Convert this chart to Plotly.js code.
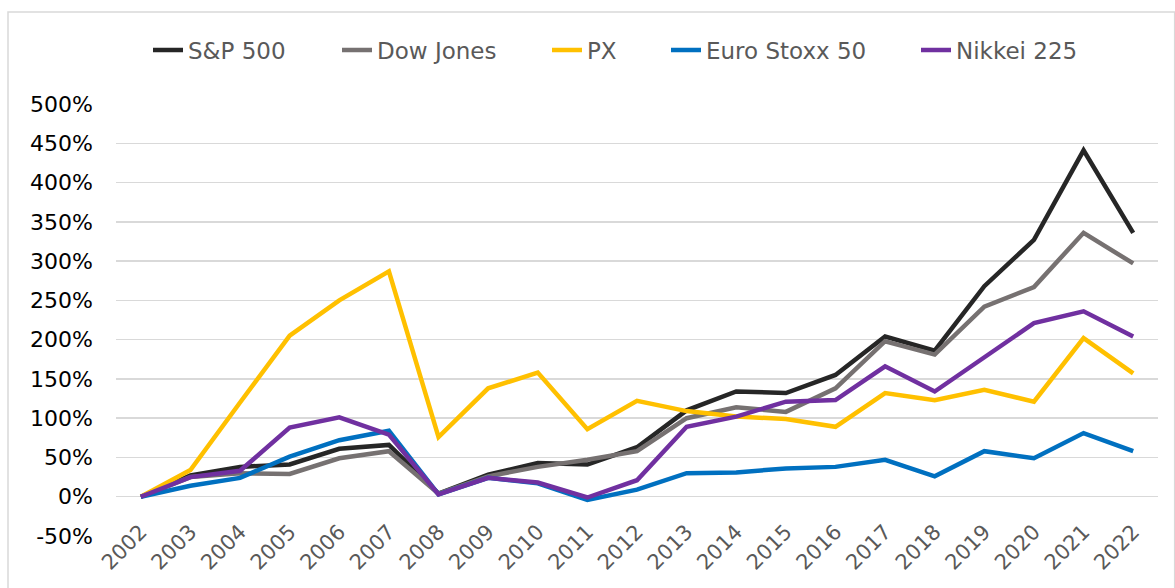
<!DOCTYPE html>
<html>
<head>
<meta charset="utf-8">
<script src="https://cdn.plot.ly/plotly-3.0.1.min.js"></script>
<style>html,body{margin:0;padding:0;background:#fff;}#chart{width:1175px;height:588px;}</style>
</head>
<body>
<div id="chart"></div>
<script>
const years = ["2002","2003","2004","2005","2006","2007","2008","2009","2010","2011","2012","2013","2014","2015","2016","2017","2018","2019","2020","2021","2022"];
const sp500    = [0, 27, 38, 41, 61, 66, 4, 28, 43, 41, 63, 110, 134, 132, 155, 204, 186, 268, 327, 441, 336];
const dowJones = [0, 25, 30, 29, 49, 58, 4, 26, 38, 47, 58, 100, 114, 108, 138, 198, 181, 242, 267, 336, 297];
const px       = [0, 34, 120, 205, 250, 287, 76, 138, 158, 86, 122, 109, 102, 99, 89, 132, 123, 136, 121, 202, 157];
const euroStoxx= [0, 14, 24, 51, 72, 84, 3, 24, 17, -4, 9, 30, 31, 36, 38, 47, 26, 58, 49, 81, 58];
const nikkei   = [0, 25, 33, 88, 101, 79, 3, 24, 18, -1, 21, 89, 102, 121, 123, 166, 134, 178, 221, 236, 204];
const yTicks = [-50, 0, 50, 100, 150, 200, 250, 300, 350, 400, 450, 500];

const series = [
  {name: "S&P 500", y: sp500, color: "#262626"},
  {name: "Dow Jones", y: dowJones, color: "#767171"},
  {name: "PX", y: px, color: "#FFC000"},
  {name: "Euro Stoxx 50", y: euroStoxx, color: "#0070C0"},
  {name: "Nikkei 225", y: nikkei, color: "#7030A0"}
];

const font = "DejaVu Sans, Liberation Sans, sans-serif";
const legendKeys = ["legend", "legend2", "legend3", "legend4", "legend5"];
const legendTextX = [188, 377, 587, 706, 956];   // pixel x where each legend label starts

const traces = series.map((s, i) => ({
  type: "scatter", mode: "lines", name: s.name, x: years, y: s.y,
  legend: legendKeys[i],
  line: {color: s.color, width: 4.5, shape: "linear"}
}));

const layout = {
  width: 1175, height: 588,
  margin: {l: 116, r: 17, t: 104, b: 52},
  paper_bgcolor: "#fff", plot_bgcolor: "#fff",
  showlegend: true,
  xaxis: {
    type: "category", range: [-0.5, 20.5], showgrid: false, zeroline: false,
    showline: false, ticks: "", tickangle: -45,
    anchor: "free", position: 0.05, automargin: false,
    tickfont: {family: font, size: 21, color: "#595959"}
  },
  yaxis: {
    range: [-50, 500], tickvals: yTicks, ticktext: yTicks.map(v => v + "%"),
    showgrid: true, gridcolor: "#d9d9d9", gridwidth: 1.5, zeroline: false,
    showline: false, ticks: "", automargin: false, ticklabelstandoff: 22,
    tickfont: {family: font, size: 22, color: "#000"}
  },
  shapes: [{
    type: "rect", xref: "paper", yref: "paper",
    x0: -108/1042, x1: 1.016, y0: -0.2, y1: (536-12)/432,
    line: {color: "#d9d9d9", width: 1.5}, fillcolor: "rgba(0,0,0,0)", layer: "below"
  }]
};
legendKeys.forEach((k, i) => {
  layout[k] = {
    orientation: "h", x: (legendTextX[i] - 40 - 116) / 1042, xanchor: "left",
    y: 1.125, yanchor: "middle", itemwidth: 30,
    font: {family: font, size: 23, color: "#595959"}, bgcolor: "rgba(0,0,0,0)"
  };
});

Plotly.newPlot("chart", traces, layout, {displayModeBar: false, staticPlot: true});
</script>
</body>
</html>
